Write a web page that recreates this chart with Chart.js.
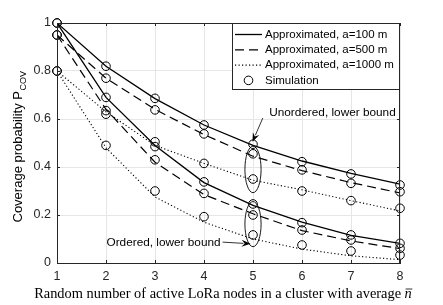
<!DOCTYPE html>
<html><head><meta charset="utf-8">
<script src="https://cdn.jsdelivr.net/npm/chart.js@4/dist/chart.umd.min.js"></script>
<style>html,body{margin:0;padding:0;background:#fff}canvas{display:block}</style>
</head><body>
<canvas id="c" width="443" height="305"></canvas>
<script>
// ---- data ----
const nValues = [1, 2, 3, 4, 5, 6, 7, 8];
// Approximated, unordered lower bound
const unordA100  = [1.00, 0.82, 0.685, 0.575, 0.49, 0.425, 0.373, 0.329];
const unordA500  = [0.95, 0.77, 0.64, 0.535, 0.445, 0.385, 0.335, 0.292];
const unordA1000 = [0.80, 0.63, 0.49, 0.415, 0.345, 0.305, 0.26, 0.217];
// Approximated, ordered lower bound
const ordA100  = [1.00, 0.69, 0.49, 0.335, 0.24, 0.17, 0.115, 0.082];
const ordA500  = [0.95, 0.64, 0.42, 0.285, 0.205, 0.135, 0.092, 0.06];
const ordA1000 = [0.80, 0.48, 0.275, 0.17, 0.10, 0.058, 0.03, 0.014];
// Simulation
const simUnord100  = [1.00, 0.82, 0.686, 0.575, 0.495, 0.422, 0.371, 0.325];
const simUnord500  = [0.95, 0.77, 0.638, 0.538, 0.455, 0.388, 0.332, 0.297];
const simUnord1000 = [0.80, 0.635, 0.505, 0.415, 0.35, 0.30, 0.26, 0.228];
const simOrd100  = [1.00, 0.69, 0.485, 0.338, 0.246, 0.168, 0.117, 0.082];
const simOrd500  = [0.95, 0.62, 0.43, 0.29, 0.20, 0.1375, 0.096, 0.061];
const simOrd1000 = [0.80, 0.49, 0.30, 0.193, 0.117, 0.075, 0.05, 0.033];
const yTicks = [0, 0.2, 0.4, 0.6, 0.8, 1];
const legendLabels = ['Approximated, a=100 m', 'Approximated, a=500 m', 'Approximated, a=1000 m', 'Simulation'];
const yTitle = 'Coverage probability P';
const yTitleSub = 'COV';
const xTitle = 'Random number of active LoRa nodes in a cluster with average ';
const xTitleVar = 'n';
const annUnordered = 'Unordered, lower bound';
const annOrdered = 'Ordered, lower bound';

const pts = arr => arr.map((v, i) => ({x: nValues[i], y: v}));
const styles = [
  {dash: [], w: 1.3},
  {dash: [9, 5], w: 1.2},
  {dash: [1.2, 2.3], w: 1.1}
];
function lineDs(arr, s) {
  return {type: 'line', data: pts(arr), borderColor: '#000', borderWidth: styles[s].w,
    borderDash: styles[s].dash, pointRadius: 0, tension: 0, fill: false};
}
function simDs(arr) {
  return {type: 'line', data: pts(arr), showLine: false, pointStyle: 'circle', pointRadius: 4.3,
    pointBorderColor: '#000', pointBackgroundColor: 'rgba(0,0,0,0)', pointBorderWidth: 1, clip: false};
}
const datasets = [
  lineDs(unordA100, 0), lineDs(unordA500, 1), lineDs(unordA1000, 2),
  lineDs(ordA100, 0), lineDs(ordA500, 1), lineDs(ordA1000, 2),
  simDs(simUnord100), simDs(simUnord500), simDs(simUnord1000),
  simDs(simOrd100), simDs(simOrd500), simDs(simOrd1000)
];

const AX = '#262626';
const SANS = '"Liberation Sans", Arial, sans-serif';
const SERIF = '"Liberation Serif", "Times New Roman", serif';
const deco = {
  id: 'deco',
  afterDatasetsDraw(chart) {
    const ctx = chart.ctx, xs = chart.scales.x, ys = chart.scales.y, a = chart.chartArea;
    ctx.save();
    // ellipses
    ctx.strokeStyle = '#000'; ctx.lineWidth = 0.9; ctx.setLineDash([]);
    [[5, 0.39, 0.165, 0.097], [5, 0.162, 0.165, 0.094]].forEach(e => {
      const cx = xs.getPixelForValue(e[0]), cy = ys.getPixelForValue(e[1]);
      const rx = xs.getPixelForValue(e[0] + e[2]) - cx, ry = cy - ys.getPixelForValue(e[1] + e[3]);
      ctx.beginPath(); ctx.ellipse(cx, cy, rx, ry, 0, 0, Math.PI * 2); ctx.stroke();
    });
    // arrows
    function arrow(x0, y0, x1, y1) {
      const p0 = [xs.getPixelForValue(x0), ys.getPixelForValue(y0)];
      const p1 = [xs.getPixelForValue(x1), ys.getPixelForValue(y1)];
      const ang = Math.atan2(p1[1] - p0[1], p1[0] - p0[0]);
      const L = 9, W = 3.5;
      ctx.beginPath(); ctx.moveTo(p0[0], p0[1]);
      ctx.lineTo(p1[0] - Math.cos(ang) * L * 0.8, p1[1] - Math.sin(ang) * L * 0.8); ctx.stroke();
      const bx = p1[0] - Math.cos(ang) * L, by = p1[1] - Math.sin(ang) * L;
      ctx.beginPath(); ctx.moveTo(p1[0], p1[1]);
      ctx.lineTo(bx - Math.sin(ang) * W, by + Math.cos(ang) * W);
      ctx.lineTo(p1[0] - Math.cos(ang) * L * 0.65, p1[1] - Math.sin(ang) * L * 0.65);
      ctx.lineTo(bx + Math.sin(ang) * W, by - Math.cos(ang) * W);
      ctx.closePath(); ctx.fillStyle = '#000'; ctx.fill();
    }
    ctx.lineWidth = 0.8;
    arrow(5.2, 0.604, 4.99, 0.505);
    arrow(4.38, 0.087, 4.95, 0.08);
    // annotation text
    ctx.fillStyle = '#000'; ctx.font = '11.8px ' + SANS;
    ctx.textBaseline = 'middle'; ctx.textAlign = 'left';
    ctx.fillText(annUnordered, xs.getPixelForValue(5.33), ys.getPixelForValue(0.628));
    ctx.fillText(annOrdered, xs.getPixelForValue(2.01), ys.getPixelForValue(0.083));
    // box & inner ticks
    ctx.strokeStyle = AX; ctx.lineWidth = 1; ctx.setLineDash([]);
    ctx.strokeRect(a.left + 0.5, a.top + 0.5, a.right - a.left - 1, a.bottom - a.top);
    ctx.beginPath();
    nValues.forEach(v => { const px = Math.round(xs.getPixelForValue(v)) + 0.5;
      ctx.moveTo(px, a.bottom); ctx.lineTo(px, a.bottom - 3); ctx.moveTo(px, a.top); ctx.lineTo(px, a.top + 3); });
    yTicks.forEach(v => { const py = Math.round(ys.getPixelForValue(v)) + 0.5;
      ctx.moveTo(a.left, py); ctx.lineTo(a.left + 3, py); ctx.moveTo(a.right, py); ctx.lineTo(a.right - 3, py); });
    ctx.stroke();
    // legend
    const lx = 232, ly = a.top, lw = a.right - lx, lh = 66;
    ctx.fillStyle = '#fff'; ctx.fillRect(lx, ly, lw, lh);
    ctx.strokeStyle = AX; ctx.strokeRect(lx + 0.5, ly + 0.5, lw - 1, lh);
    ctx.font = '11.5px ' + SANS; ctx.fillStyle = '#000';
    legendLabels.forEach((t, i) => {
      const yy = ly + 11.5 + i * 15.3;
      ctx.strokeStyle = '#000';
      if (i < 3) {
        ctx.lineWidth = styles[i].w; ctx.setLineDash(styles[i].dash);
        ctx.beginPath(); ctx.moveTo(235, yy); ctx.lineTo(262, yy); ctx.stroke(); ctx.setLineDash([]);
      } else {
        ctx.lineWidth = 1; ctx.beginPath(); ctx.arc(248.5, yy, 4.3, 0, Math.PI * 2); ctx.stroke();
      }
      ctx.fillText(t, 265, yy);
    });
    ctx.restore();
  },
  afterDraw(chart) {
    const ctx = chart.ctx, a = chart.chartArea;
    ctx.save();
    // y title
    ctx.translate(22, 147); ctx.rotate(-Math.PI / 2);
    ctx.fillStyle = '#000'; ctx.textBaseline = 'alphabetic';
    ctx.font = '13px ' + SANS;
    const w1 = ctx.measureText(yTitle).width;
    ctx.font = '9px ' + SANS;
    const w2 = ctx.measureText(yTitleSub).width;
    const start = -(w1 + w2) / 2;
    ctx.font = '13px ' + SANS;
    ctx.textAlign = 'left';
    ctx.fillText(yTitle, start, 0);
    ctx.font = '9px ' + SANS;
    ctx.fillText(yTitleSub, start + w1 + 0.5, 3.5);
    ctx.restore();
    // x title
    ctx.save();
    ctx.fillStyle = '#000'; ctx.textBaseline = 'alphabetic'; ctx.textAlign = 'left';
    const fs = 14.4;
    ctx.font = fs + 'px ' + SERIF;
    const t1 = ctx.measureText(xTitle).width;
    ctx.font = 'italic ' + fs + 'px ' + SERIF;
    const t2 = ctx.measureText(xTitleVar).width;
    const sx = 223 - (t1 + t2) / 2;
    const by = 298;
    ctx.font = fs + 'px ' + SERIF;
    ctx.fillText(xTitle, sx, by);
    ctx.font = 'italic ' + fs + 'px ' + SERIF;
    ctx.fillText(xTitleVar, sx + t1, by);
    ctx.strokeStyle = '#000'; ctx.lineWidth = 0.8;
    ctx.beginPath(); ctx.moveTo(sx + t1 + 1, by - 9); ctx.lineTo(sx + t1 + t2 + 0.5, by - 9); ctx.stroke();
    ctx.restore();
  }
};

new Chart(document.getElementById('c'), {
  type: 'line',
  data: {datasets},
  plugins: [deco],
  options: {
    responsive: false, animation: false, devicePixelRatio: 1,
    layout: {padding: {top: 23, right: 43, left: 0, bottom: 0}},
    plugins: {legend: {display: false}, tooltip: {enabled: false}, title: {display: false}},
    scales: {
      x: {type: 'linear', min: 1, max: 8,
        afterFit: s => { s.height = 42; },
        afterBuildTicks: s => { s.ticks = nValues.map(v => ({value: v})); },
        grid: {color: '#e6e6e6', drawTicks: false, lineWidth: 1},
        border: {display: true, color: AX, width: 1},
        ticks: {color: AX, padding: 6, font: {family: SANS, size: 12.5},
          callback: v => String(v)}},
      y: {type: 'linear', min: 0, max: 1,
        afterFit: s => { s.width = 57; },
        afterBuildTicks: s => { s.ticks = yTicks.map(v => ({value: v})); },
        grid: {color: '#e6e6e6', drawTicks: false, lineWidth: 1},
        border: {display: true, color: AX, width: 1},
        ticks: {color: AX, padding: 6, font: {family: SANS, size: 12.5},
          callback: v => String(Math.round(v * 10) / 10)}}
    }
  }
});
</script>
</body></html>
